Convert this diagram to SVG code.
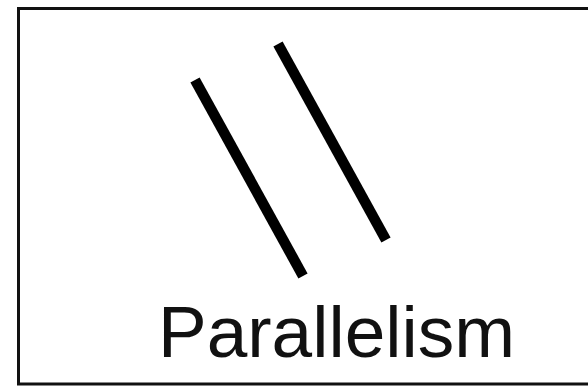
<svg xmlns="http://www.w3.org/2000/svg" width="588" height="386" viewBox="0 0 588 386">
<style>
.frame{fill:#fff;stroke:#111;stroke-width:3}
.bar{stroke:#000;stroke-width:10.5;stroke-linecap:butt}
.label{font-family:"Liberation Sans",Arial,sans-serif;font-size:73px;fill:#111}
</style>
<rect width="588" height="386" fill="#fff"/>
<g id="frame"><rect class="frame" x="18.5" y="8.5" width="580" height="375.5"/></g>
<g id="connectors">
<line class="bar" x1="195" y1="80" x2="303" y2="276"/>
<line class="bar" x1="278" y1="44" x2="386" y2="240"/>
</g>
<g id="label"><text class="label" x="158" y="357">Parallelism</text></g>
</svg>
